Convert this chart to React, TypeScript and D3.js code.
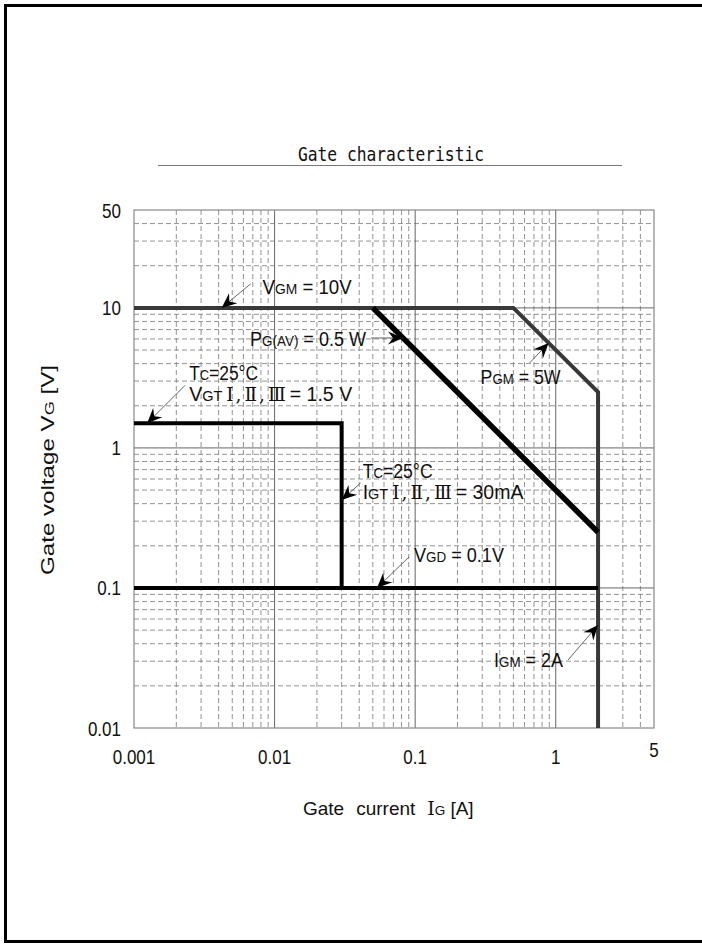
import React from "react";
import * as d3 from "d3";

// ---- data ----
const xTickValues = [0.001, 0.01, 0.1, 1, 5];
const xTickLabels = ["0.001", "0.01", "0.1", "1", "5"];
const yTickValues = [0.01, 0.1, 1, 10, 50];
const yTickLabels = ["0.01", "0.1", "1", "10", "50"];

// rated boundary: VGM = 10 V, PGM = 5 W, IGM = 2 A
const boundaryLine: [number, number][] = [[0.001, 10], [0.5, 10], [2, 2.5], [2, 0.01]];
// average gate power 0.5 W
const pgavLine: [number, number][] = [[0.05, 10], [2, 0.25]];
// VGT = 1.5 V, IGT = 30 mA
const vgtLine: [number, number][] = [[0.001, 1.5], [0.03, 1.5], [0.03, 0.1]];
// VGD = 0.1 V
const vgdLine: [number, number][] = [[0.001, 0.1], [2, 0.1]];

// arrow tips (data coordinates)
const tipVGM: [number, number] = [0.0042, 10];
const tipPGAV: [number, number] = [0.082, 0.5 / 0.082];
const tipPGM: [number, number] = [0.89, 5 / 0.89];
const tipVGT: [number, number] = [0.00124, 1.5];
const tipIGT: [number, number] = [0.03, 0.425];
const tipVGD: [number, number] = [0.0535, 0.1];
const tipIGM: [number, number] = [2, 0.0544];

const W = 702;
const H = 944;
const L = 134, R = 654, T = 210, B = 728;

const x = d3.scaleLog().domain([0.001, 5]).range([L, R]);
const y = d3.scaleLog().domain([0.01, 50]).range([B, T]);

const xMajor = [0.01, 0.1, 1];
const xMinor: number[] = [];
[0.001, 0.01, 0.1].forEach((d) => { for (let k = 2; k <= 9; k++) xMinor.push(k * d); });
[2, 3, 4].forEach((k) => xMinor.push(k));
const yMajor = [0.1, 1, 10];
const yMinor: number[] = [];
[0.01, 0.1, 1].forEach((d) => { for (let k = 2; k <= 9; k++) yMinor.push(k * d); });
[20, 30, 40].forEach((k) => yMinor.push(k));

const line = d3.line<[number, number]>().x((d) => x(d[0])).y((d) => y(d[1]));

const SANS = "'Liberation Sans', Arial, sans-serif";
const SERIF = "'DejaVu Serif', 'Liberation Serif', serif";
const MONO = "'DejaVu Sans Mono', monospace";

function Arrow({ tip, dx, dy }: { tip: [number, number]; dx: number; dy: number }) {
  const tx = x(tip[0]);
  const ty = y(tip[1]);
  const sx = tx + dx;
  const sy = ty + dy;
  const ang = (Math.atan2(ty - sy, tx - sx) * 180) / Math.PI;
  return (
    <g>
      <line x1={sx} y1={sy} x2={tx} y2={ty} stroke="#555" strokeWidth={0.9} />
      <polygon
        points="0,0 -15,-6.5 -10,0 -15,6.5"
        fill="#000"
        transform={`translate(${tx},${ty}) rotate(${ang})`}
      />
    </g>
  );
}

const big = 19.5;
const small = 14.5;

function Sub({ main, sub, rest }: { main: string; sub: string; rest?: string }) {
  return (
    <>
      <tspan fontSize={big}>{main}</tspan>
      <tspan fontSize={small}>{sub}</tspan>
      {rest ? <tspan fontSize={big}>{rest}</tspan> : null}
    </>
  );
}

function Roman() {
  return (
    <tspan fontFamily={SERIF} fontSize={18.5}>
      <tspan dx={4}>Ⅰ</tspan>
      <tspan dx={2}>,</tspan>
      <tspan dx={3}>Ⅱ</tspan>
      <tspan dx={2}>,</tspan>
      <tspan dx={3}>Ⅲ</tspan>
    </tspan>
  );
}

export default function App() {
  const pVGM = [x(tipVGM[0]), y(tipVGM[1])];
  const pPGAV = [x(tipPGAV[0]), y(tipPGAV[1])];
  const pPGM = [x(tipPGM[0]), y(tipPGM[1])];
  const pVGT = [x(tipVGT[0]), y(tipVGT[1])];
  const pIGT = [x(tipIGT[0]), y(tipIGT[1])];
  const pVGD = [x(tipVGD[0]), y(tipVGD[1])];
  const pIGM = [x(tipIGM[0]), y(tipIGM[1])];

  return (
    <svg
      width={W}
      height={H}
      style={{ position: "absolute", left: 0, top: 0, background: "#fff" }}
    >
      <rect x={0} y={0} width={W} height={H} fill="#fff" />
      {/* outer frame */}
      <rect x={5.5} y={5.5} width={W + 10} height={936} fill="none" stroke="#000" strokeWidth={3} />

      {/* title */}
      <text
        x={391}
        y={161}
        textAnchor="middle"
        fontFamily={MONO}
        fontSize={20}
        textLength={186}
        lengthAdjust="spacingAndGlyphs"
        fill="#111"
      >
        Gate  characteristic
      </text>
      <line x1={158} x2={622} y1={165.5} y2={165.5} stroke="#777" strokeWidth={1} />

      {/* grid minor */}
      <g stroke="#777" strokeWidth={0.8} strokeDasharray="5,3">
        {xMinor.map((v) => (
          <line key={"xm" + v} x1={x(v)} x2={x(v)} y1={T} y2={B} />
        ))}
        {yMinor.map((v) => (
          <line key={"ym" + v} x1={L} x2={R} y1={y(v)} y2={y(v)} />
        ))}
      </g>
      {/* grid major */}
      <g stroke="#666" strokeWidth={1}>
        {xMajor.map((v) => (
          <line key={"xM" + v} x1={x(v)} x2={x(v)} y1={T} y2={B} />
        ))}
        {yMajor.map((v) => (
          <line key={"yM" + v} x1={L} x2={R} y1={y(v)} y2={y(v)} />
        ))}
      </g>
      <rect x={L} y={T} width={R - L} height={B - T} fill="none" stroke="#888" strokeWidth={1.2} />

      {/* curves */}
      <path d={line(boundaryLine) || ""} fill="none" stroke="#383838" strokeWidth={4} />
      <path d={line(pgavLine) || ""} fill="none" stroke="#000" strokeWidth={5.5} />
      <path d={line(vgtLine) || ""} fill="none" stroke="#000" strokeWidth={4} />
      <path d={line(vgdLine) || ""} fill="none" stroke="#000" strokeWidth={4} />

      {/* y ticks */}
      {yTickValues.map((v, i) => (
        <g key={"yt" + v} transform={`translate(121,${y(v) + 7.5}) scale(0.85,1)`}>
          <text textAnchor="end" fontFamily={SANS} fontSize={20} fill="#111">
            {yTickLabels[i]}
          </text>
        </g>
      ))}
      {/* x ticks */}
      {xTickValues.map((v, i) => (
        <g
          key={"xt" + v}
          transform={`translate(${x(v)},${v === 5 ? 757 : 764}) scale(0.85,1)`}
        >
          <text textAnchor="middle" fontFamily={SANS} fontSize={20} fill="#111">
            {xTickLabels[i]}
          </text>
        </g>
      ))}

      {/* axis titles */}
      <text x={303} y={815} fontFamily={SANS} fontSize={19} fill="#111">
        <tspan>Gate</tspan>
        <tspan dx={12}>current</tspan>
        <tspan dx={12} fontFamily={SERIF}>I</tspan>
        <tspan fontSize={13.5}>G</tspan>
        <tspan dx={5}>[A]</tspan>
      </text>

      <g transform="translate(54,470) rotate(-90)">
        <text
          x={0}
          y={0}
          textAnchor="middle"
          fontFamily={SANS}
          fontSize={18}
          textLength={210}
          lengthAdjust="spacingAndGlyphs"
          fill="#111"
        >
          <tspan>Gate voltage  V</tspan>
          <tspan fontSize={13.5}>G</tspan>
          <tspan>  [V]</tspan>
        </text>
      </g>

      {/* annotations */}
      <g fontFamily={SANS} fill="#111">
        <Arrow tip={tipVGM} dx={29} dy={-24} />
        <text x={pVGM[0] + 41} y={pVGM[1] - 14} textLength={89} lengthAdjust="spacingAndGlyphs">
          <Sub main="V" sub="GM" rest=" = 10V" />
        </text>

        <Arrow tip={tipPGAV} dx={-32} dy={0} />
        <text x={pPGAV[0] - 153} y={pPGAV[1] + 8} textLength={116} lengthAdjust="spacingAndGlyphs">
          <Sub main="P" sub="G(AV)" rest=" = 0.5 W" />
        </text>

        <Arrow tip={tipPGM} dx={-19} dy={20} />
        <text x={pPGM[0] - 68} y={pPGM[1] + 41} textLength={80} lengthAdjust="spacingAndGlyphs">
          <Sub main="P" sub="GM" rest=" = 5W" />
        </text>

        <Arrow tip={tipVGT} dx={38} dy={-38} />
        <text x={pVGT[0] + 42} y={pVGT[1] - 43} textLength={69} lengthAdjust="spacingAndGlyphs">
          <Sub main="T" sub="C" rest="=25°C" />
        </text>
        <text x={pVGT[0] + 42} y={pVGT[1] - 22} fontSize={big}>
          <Sub main="V" sub="GT" />
          <Roman />
          <tspan dx={4} fontSize={big}>= 1.5 V</tspan>
        </text>

        <Arrow tip={tipIGT} dx={19} dy={-17} />
        <text x={pIGT[0] + 21} y={pIGT[1] - 22} textLength={70} lengthAdjust="spacingAndGlyphs">
          <Sub main="T" sub="C" rest="=25°C" />
        </text>
        <text x={pIGT[0] + 21} y={pIGT[1] - 1} fontSize={big}>
          <Sub main="I" sub="GT" />
          <Roman />
          <tspan dx={4} fontSize={big}>= 30mA</tspan>
        </text>

        <Arrow tip={tipVGD} dx={32} dy={-31} />
        <text x={pVGD[0] + 37} y={pVGD[1] - 26} textLength={90} lengthAdjust="spacingAndGlyphs">
          <Sub main="V" sub="GD" rest=" = 0.1V" />
        </text>

        <Arrow tip={tipIGM} dx={-30} dy={35} />
        <text x={pIGM[0] - 104} y={pIGM[1] + 42} textLength={69} lengthAdjust="spacingAndGlyphs">
          <Sub main="I" sub="GM" rest=" = 2A" />
        </text>
      </g>
    </svg>
  );
}
